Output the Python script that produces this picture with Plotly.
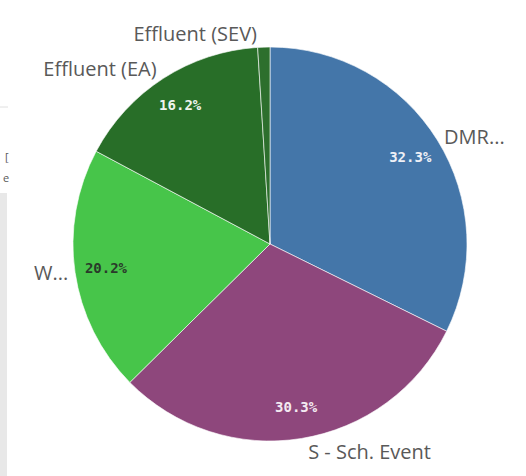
import plotly.graph_objects as go

labels = ["DMR...", "S - Sch. Event", "W...", "Effluent (EA)", "Effluent (SEV)"]
values = [32.3, 30.3, 20.2, 16.2, 1.0]
colors = ["#4476a9", "#8e477c", "#47c54a", "#286e28", "#2d6f2d"]
pct_text = ["%{percent:.1%}", "%{percent:.1%}", "%{percent:.1%}", "%{percent:.1%}", ""]
pct_colors = ["#eef0f6", "#f3eaf1", "#2a3a2a", "#eef4ee", "#eef4ee"]

W, H = 526, 476
cx, cy, r = 270, 244, 197
dom_x = [(cx - r) / W, (cx + r) / W]
dom_y = [(H - cy - r) / H, (H - cy + r) / H]
clear = ["rgba(0,0,0,0)"] * len(values)

fig = go.Figure()

# coloured slices
fig.add_trace(go.Pie(
    labels=labels, values=values, sort=False, direction="clockwise", rotation=0,
    marker=dict(colors=colors, line=dict(color="rgba(255,255,255,0.6)", width=1)),
    textinfo="none", domain=dict(x=dom_x, y=dom_y), showlegend=False,
    hoverinfo="label+percent",
))

# percentages, pushed toward the rim with a transparent ring
fig.add_trace(go.Pie(
    labels=labels, values=values, sort=False, direction="clockwise", rotation=0,
    hole=0.68, marker=dict(colors=clear, line=dict(width=0)),
    texttemplate=pct_text, textposition="inside", insidetextorientation="horizontal",
    textfont=dict(family="DejaVu Sans Mono", size=14, weight="bold", color=pct_colors),
    domain=dict(x=dom_x, y=dom_y), showlegend=False, hoverinfo="skip",
))

# outside category labels
fig.add_trace(go.Pie(
    labels=labels, values=values, sort=False, direction="clockwise", rotation=0,
    marker=dict(colors=clear, line=dict(width=0)),
    texttemplate="%{label}", textposition="outside",
    textfont=dict(family="Open Sans", size=20, color="#595959"),
    domain=dict(x=dom_x, y=dom_y), showlegend=False, hoverinfo="skip",
))

# bits of the neighbouring panel on the left edge
fig.add_shape(type="line", xref="paper", yref="paper", x0=0, x1=8 / W,
              y0=1 - 107 / H, y1=1 - 107 / H, line=dict(color="#e0e0e0", width=1))
fig.add_shape(type="rect", xref="paper", yref="paper", x0=0, x1=7 / W,
              y0=0, y1=1 - 193 / H, fillcolor="#e8e8e8", line=dict(width=0))
fig.add_annotation(x=10 / W, y=1 - 148 / H, xref="paper", yref="paper", text="[",
                   showarrow=False, xanchor="right", borderpad=0,
                   font=dict(family="Open Sans", size=11, color="#595959"))
fig.add_annotation(x=10 / W, y=1 - 177 / H, xref="paper", yref="paper", text="e",
                   showarrow=False, xanchor="right", borderpad=0,
                   font=dict(family="Open Sans", size=11, color="#595959"))

fig.update_layout(
    width=W, height=H,
    margin=dict(l=0, r=0, t=0, b=0),
    paper_bgcolor="white", plot_bgcolor="white",
)

fig.write_html("out.html", config={"displayModeBar": False},
               post_script="document.body.style.margin='0';")
